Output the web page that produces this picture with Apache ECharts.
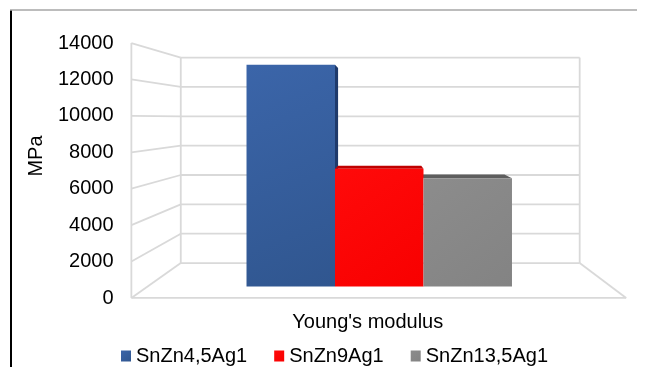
<!DOCTYPE html>
<html>
<head>
<meta charset="utf-8">
<title>Young's modulus</title>
<script src="https://cdn.jsdelivr.net/npm/echarts@6/dist/echarts.min.js"></script>
<style>
  html, body { margin: 0; padding: 0; background: #fff; }
  #chart { width: 646px; height: 367px; }
</style>
</head>
<body>
<div id="chart"></div>
<script>
// Data
const categories = ["Young's modulus"];
const alloyNames = ['SnZn4,5Ag1', 'SnZn9Ag1', 'SnZn13,5Ag1'];
const modulusSnZn45Ag1 = [13000];
const modulusSnZn9Ag1 = [6900];
const modulusSnZn135Ag1 = [6350];
const yTicks = [0, 2000, 4000, 6000, 8000, 10000, 12000, 14000];

const seriesValues = [modulusSnZn45Ag1, modulusSnZn9Ag1, modulusSnZn135Ag1];

// Look of the pseudo-3D box
const FONT = "'Liberation Sans', Arial, sans-serif";
const view = {
  eyeShift: 7,        // vanishing point offset from plane centre (px)
  eyeLevel: 9880,     // value on the axis at eye height
  front: 1.068,       // scale of the front plane relative to the bar plane
  back: 0.861,        // scale of the back wall relative to the bar plane
  barDepth: 0.94,     // scale of a bar's rear face relative to its front face
  barShare: 0.191     // bar width as a share of the category band
};
const wallLine = { stroke: '#d9d9d9', lineWidth: 1.8 };
const frontColors = [
  ['#3b65a9', '#30568f'],
  ['#ff0a0a', '#f80000'],
  ['#8c8c8c', '#838383']
];
const faceColors = ['#1f3a6b', '#c00000', '#5e5e5e'];

function eyeOf(api) {
  const c = api.coord([0, view.eyeLevel]);
  return [c[0] + view.eyeShift, c[1]];
}
function proj(p, s, E) {
  return [E[0] + (p[0] - E[0]) * s, E[1] + (p[1] - E[1]) * s];
}

// Back wall, side wall and floor drawn from the value axis ticks
function renderWalls(params, api) {
  const E = eyeOf(api);
  const bw = api.size([1, 0])[0];
  const children = [];
  const line = (a, b) => children.push({
    type: 'line',
    shape: { x1: a[0], y1: a[1], x2: b[0], y2: b[1] },
    style: wallLine
  });
  const edge = (v) => {
    const c = api.coord([0, v]);
    return { L: [c[0] - bw / 2, c[1]], R: [c[0] + bw / 2, c[1]] };
  };
  yTicks.forEach(v => {
    const e = edge(v);
    const fL = proj(e.L, view.front, E);
    const bL = proj(e.L, view.back, E);
    const bR = proj(e.R, view.back, E);
    line(fL, bL);
    line(bL, bR);
  });
  const lo = edge(yTicks[0]);
  const hi = edge(yTicks[yTicks.length - 1]);
  line(proj(lo.L, view.front, E), proj(hi.L, view.front, E));
  line(proj(lo.L, view.back, E), proj(hi.L, view.back, E));
  line(proj(lo.R, view.back, E), proj(hi.R, view.back, E));
  line(proj(lo.L, view.front, E), proj(lo.R, view.front, E));
  line(proj(lo.R, view.back, E), proj(lo.R, view.front, E));
  return { type: 'group', children };
}

// Top and side faces of each bar, seen towards the vanishing point
function makeFaceRenderer(idx) {
  return function (params, api) {
    const E = eyeOf(api);
    const bw = api.size([1, 0])[0];
    const barW = bw * view.barShare;
    const top = api.coord([api.value(0), api.value(1)]);
    const base = api.coord([api.value(0), 0]);
    const xl = top[0] - 1.5 * barW + idx * barW;
    const xr = xl + barW;
    const yt = top[1], yb = base[1];
    const d = view.barDepth;
    const children = [];
    const poly = (pts) => children.push({
      type: 'polygon', shape: { points: pts },
      style: { fill: faceColors[idx] }
    });
    if (yt > E[1]) {
      poly([[xl, yt], [xr, yt], proj([xr, yt], d, E), proj([xl, yt], d, E)]);
    }
    if (xr < E[0]) {
      poly([[xr, yt], [xr, yb], proj([xr, yb], d, E), proj([xr, yt], d, E)]);
    }
    return { type: 'group', children };
  };
}

const series = [{
  type: 'custom',
  id: 'walls',
  xAxisIndex: 0, yAxisIndex: 0,
  clip: false, silent: true, z: 1,
  data: [[0, 0]],
  renderItem: renderWalls
}];

seriesValues.forEach((vals, i) => {
  series.push({
    type: 'custom',
    id: 'faces' + i,
    xAxisIndex: 0, yAxisIndex: 0,
    clip: false, silent: true, z: 2,
    data: vals.map((v, k) => [k, v]),
    renderItem: makeFaceRenderer(i)
  });
});

seriesValues.forEach((vals, i) => {
  series.push({
    type: 'bar',
    name: alloyNames[i],
    xAxisIndex: 0, yAxisIndex: 0,
    z: 3,
    barWidth: (view.barShare * 100) + '%',
    barGap: '0%',
    data: vals,
    itemStyle: {
      color: new echarts.graphic.LinearGradient(0, 0, 1, 1, [
        { offset: 0, color: frontColors[i][0] },
        { offset: 1, color: frontColors[i][1] }
      ])
    }
  });
});

const option = {
  animation: false,
  backgroundColor: '#fff',
  textStyle: { fontFamily: FONT },
  grid: [
    { left: 147.6, right: 35.1, top: 47.8, bottom: 80.5 },   // bar plane
    { left: 131.5, right: 20, top: 43, bottom: 69 }          // front plane
  ],
  xAxis: [{
    type: 'category', gridIndex: 0, data: categories,
    axisLine: { show: false }, axisTick: { show: false }, splitLine: { show: false },
    axisLabel: { fontSize: 20, color: '#000', fontFamily: FONT, margin: 26, padding: [0, 23, 0, 0] }
  }, {
    type: 'category', gridIndex: 1, data: categories, show: false
  }],
  yAxis: [{
    type: 'value', gridIndex: 0, min: 0, max: 14000, interval: 2000, show: false
  }, {
    type: 'value', gridIndex: 1, min: 0, max: 14000, interval: 2000,
    axisLine: { show: false }, axisTick: { show: false }, splitLine: { show: false },
    axisLabel: {
      fontSize: 20, color: '#000', fontFamily: FONT, margin: 18,
      formatter: (v) => String(v)
    }
  }],
  legend: {
    data: alloyNames,
    icon: 'rect',
    itemWidth: 10, itemHeight: 11, itemGap: 27,
    left: 116, top: 341,
    textStyle: { fontSize: 20, color: '#000', fontFamily: FONT }
  },
  graphic: [
    { type: 'line', shape: { x1: 11, y1: 10, x2: 11, y2: 367 }, style: { stroke: '#000', lineWidth: 2 }, silent: true },
    { type: 'line', shape: { x1: 10, y1: 10, x2: 637, y2: 10 }, style: { stroke: '#a6a6a6', lineWidth: 1.5 }, silent: true },
    {
      type: 'text', x: 36, y: 156, rotation: Math.PI / 2, silent: true,
      style: { text: 'MPa', fontSize: 20, fontFamily: FONT, fill: '#000', align: 'center', verticalAlign: 'middle' }
    }
  ],
  series
};

const chart = echarts.init(document.getElementById('chart'), null, { renderer: 'canvas' });
chart.setOption(option);
</script>
</body>
</html>
